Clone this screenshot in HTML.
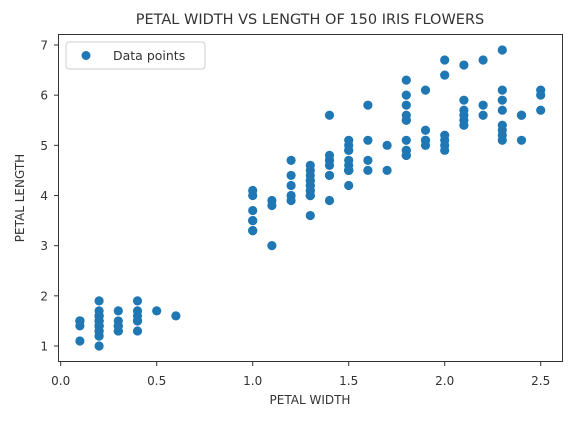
<!DOCTYPE html>
<html><head><meta charset="utf-8"><style>
body{margin:0;background:#fff;}
svg text{font-family:"DejaVu Sans","Liberation Sans",sans-serif;fill:#333;}
</style></head><body>
<svg id="chart" width="577" height="418">
<text x="310" y="24" text-anchor="middle" font-size="14.5">PETAL WIDTH VS LENGTH OF 150 IRIS FLOWERS</text>
<g id="marks"></g>
<rect x="58.5" y="34.5" width="504" height="327" fill="none" stroke="#333" stroke-width="1"/>
<g id="xticks"></g>
<g id="yticks"></g>
<text x="310" y="404" text-anchor="middle" font-size="12">PETAL WIDTH</text>
<text transform="translate(24,198) rotate(-90)" text-anchor="middle" font-size="12">PETAL LENGTH</text>
<g>
<rect x="66" y="42" width="139" height="27" rx="3" fill="#fff" stroke="#ccc"/>
<circle cx="86" cy="55.5" r="4.5" fill="#1f77b4"/>
<text x="113" y="60" font-size="12.5">Data points</text>
</g>
</svg>
<script>
const petalWidth=[.2,.2,.2,.2,.2,.4,.3,.2,.2,.1,.2,.2,.1,.1,.2,.4,.4,.3,.3,.3,.2,.4,.2,.5,.2,.2,.4,.2,.2,.2,.2,.4,.1,.2,.1,.2,.2,.1,.2,.2,.3,.3,.2,.6,.4,.3,.2,.2,.2,.2,
1.4,1.5,1.5,1.3,1.5,1.3,1.6,1.0,1.3,1.4,1.0,1.5,1.0,1.4,1.3,1.4,1.5,1.0,1.5,1.1,1.8,1.3,1.5,1.2,1.3,1.4,1.4,1.7,1.5,1.0,1.1,1.0,1.2,1.6,1.5,1.6,1.5,1.3,1.3,1.3,1.2,1.4,1.2,1.0,1.3,1.2,1.3,1.3,1.1,1.3,
2.5,1.9,2.1,1.8,2.2,2.1,1.7,1.8,1.8,2.5,2.0,1.9,2.1,2.0,2.4,2.3,1.8,2.2,2.3,1.5,2.3,2.0,2.0,1.8,2.1,1.8,1.8,1.8,2.1,1.6,1.9,2.0,2.2,1.5,1.4,2.3,2.4,1.8,1.8,2.1,2.4,2.3,1.9,2.3,2.5,2.3,1.9,2.0,2.3,1.8];
const petalLength=[1.4,1.4,1.3,1.5,1.4,1.7,1.4,1.5,1.4,1.5,1.5,1.6,1.4,1.1,1.2,1.5,1.3,1.4,1.7,1.5,1.7,1.5,1.0,1.7,1.9,1.6,1.6,1.5,1.4,1.6,1.6,1.5,1.5,1.4,1.5,1.2,1.3,1.5,1.3,1.5,1.3,1.3,1.3,1.6,1.9,1.4,1.6,1.4,1.5,1.4,
4.7,4.5,4.9,4.0,4.6,4.5,4.7,3.3,4.6,3.9,3.5,4.2,4.0,4.7,3.6,4.4,4.5,4.1,4.5,3.9,4.8,4.0,4.9,4.7,4.3,4.4,4.8,5.0,4.5,3.5,3.8,3.7,3.9,5.1,4.5,4.5,4.7,4.4,4.1,4.0,4.4,4.6,4.0,3.3,4.2,4.2,4.2,4.3,3.0,4.1,
6.0,5.1,5.9,5.6,5.8,6.6,4.5,6.3,5.8,6.1,5.1,5.3,5.5,5.0,5.1,5.3,5.5,6.7,6.9,5.0,5.7,4.9,6.7,4.9,5.7,6.0,4.8,4.9,5.6,5.8,6.1,6.4,5.6,5.1,5.6,6.1,5.6,5.5,4.8,5.4,5.6,5.1,5.1,5.9,5.7,5.2,5.0,5.2,5.4,5.1];
const xTickLabels=["0.0","0.5","1.0","1.5","2.0","2.5"];
const yTickLabels=["1","2","3","4","5","6","7"];
const NS="http://www.w3.org/2000/svg";
function xs(v){return 60.7+v*192;}
function ys(v){return 346-(v-1)*50.17;}
const marks=document.getElementById('marks');
for(let i=0;i<petalWidth.length;i++){
  const c=document.createElementNS(NS,'circle');
  c.setAttribute('cx',xs(petalWidth[i]));c.setAttribute('cy',ys(petalLength[i]));
  c.setAttribute('r',4.6);c.setAttribute('fill','#1f77b4');
  
  
  marks.appendChild(c);
}
const xg=document.getElementById('xticks');
xTickLabels.forEach(l=>{
  const x=xs(parseFloat(l));
  const t=document.createElementNS(NS,'line');
  t.setAttribute('x1',x);t.setAttribute('x2',x);t.setAttribute('y1',362);t.setAttribute('y2',366);t.setAttribute('stroke','#333');
  
  
  xg.appendChild(t);
  const s=document.createElementNS(NS,'text');
  s.setAttribute('x',x);s.setAttribute('y',385);s.setAttribute('text-anchor','middle');s.setAttribute('font-size','12');
  s.textContent=l;
  
  
  xg.appendChild(s);
});
const yg=document.getElementById('yticks');
yTickLabels.forEach(l=>{
  const y=ys(parseFloat(l));
  const t=document.createElementNS(NS,'line');
  t.setAttribute('x1',54);t.setAttribute('x2',58);t.setAttribute('y1',y);t.setAttribute('y2',y);t.setAttribute('stroke','#333');
  
  
  yg.appendChild(t);
  const s=document.createElementNS(NS,'text');
  s.setAttribute('x',48);s.setAttribute('y',y+4.5);s.setAttribute('text-anchor','end');s.setAttribute('font-size','12');
  s.textContent=l;
  
  
  yg.appendChild(s);
});
</script>
</body></html>
